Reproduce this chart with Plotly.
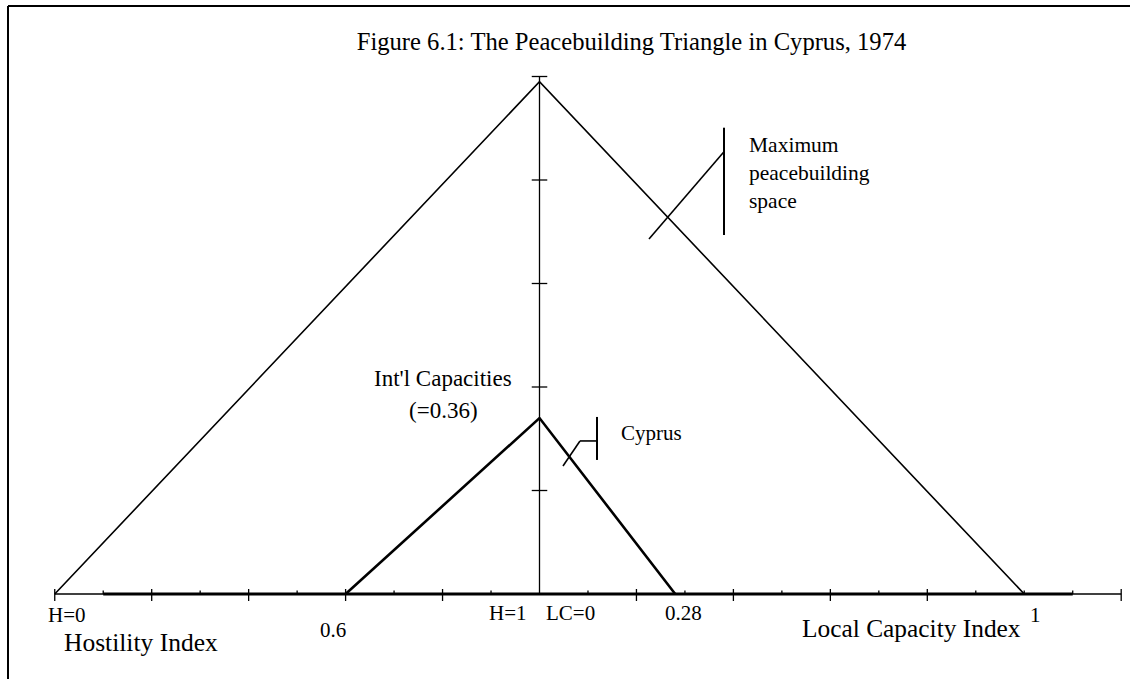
import plotly.graph_objects as go

# ---------------- data ----------------
hostility_ticks = [0.0, 0.1, 0.2, 0.3, 0.4, 0.5, 0.6, 0.7, 0.8, 0.9, 1.0]
hostility_major = [0.0, 0.2, 0.4, 0.6, 0.8]
capacity_ticks = [0.1, 0.2, 0.3, 0.4, 0.5, 0.6, 0.7, 0.8, 0.9, 1.0, 1.1, 1.2]
capacity_major = [0.2, 0.4, 0.6, 0.8, 1.2]
height_ticks = [0.2, 0.4, 0.6, 0.8, 1.0]

# maximum peacebuilding space (outer triangle)
max_hostility = 0.0
max_capacity = 1.0
max_intl = 0.99

# Cyprus 1974 (inner triangle)
cy_hostility = 0.6
cy_capacity = 0.28
cy_intl = 0.34
cy_intl_label = "0.36"

# ---------------- helpers ----------------
def hx(h):          # hostility index -> horizontal position (left half)
    return h - 1.0

def cx(c):          # local capacity index -> horizontal position (right half)
    return c

FONT = "Liberation Serif"
BLACK = "#000000"

fig = go.Figure()

def seg_trace(xs, ys, width):
    fig.add_trace(go.Scatter(x=xs, y=ys, mode="lines",
                             line=dict(color=BLACK, width=width),
                             hoverinfo="skip", showlegend=False))

# horizontal axis: thin full line + thick inner segment
seg_trace([hx(hostility_ticks[0]), cx(capacity_ticks[-1])], [0, 0], 1.3)
seg_trace([hx(hostility_ticks[1]), cx(capacity_ticks[-2])], [0, 0], 3)

# vertical axis
seg_trace([0, 0], [0, height_ticks[-1]], 1.3)

# ticks on horizontal axis
UP_MAJ, DN_MAJ, UP_MIN = 0.0097, 0.0135, 0.0070
tx, ty = [], []
for h in hostility_ticks[:-1]:
    major = any(abs(h - m) < 1e-9 for m in hostility_major)
    tx += [hx(h), hx(h), None]
    ty += [UP_MAJ if major else UP_MIN, -DN_MAJ if major else 0, None]
for c in capacity_ticks:
    major = any(abs(c - m) < 1e-9 for m in capacity_major)
    tx += [cx(c), cx(c), None]
    ty += [UP_MAJ if major else UP_MIN, -DN_MAJ if major else 0, None]
seg_trace(tx, ty, 1.3)

# ticks on vertical axis
HALF = 0.0160
vx, vy = [], []
for v in height_ticks:
    vx += [-HALF, HALF, None]
    vy += [v, v, None]
seg_trace(vx, vy, 1.3)

# outer triangle
seg_trace([hx(max_hostility), 0, cx(max_capacity)], [0, max_intl, 0], 1.6)
# inner triangle (Cyprus)
seg_trace([hx(cy_hostility), 0, cx(cy_capacity)], [0, cy_intl, 0], 2.6)

# ---------------- callouts (anchored on the triangles, pixel offsets) ----------------
shapes = []

def pline(ax_, ay_, x0, y0, x1, y1, w):
    shapes.append(dict(type="line", xref="x", yref="y",
                       xsizemode="pixel", ysizemode="pixel",
                       xanchor=ax_, yanchor=ay_,
                       x0=x0, y0=y0, x1=x1, y1=y1,
                       line=dict(color=BLACK, width=w)))

# point on outer triangle right edge
m_c = 0.27
m_ax, m_ay = cx(m_c), max_intl * (1 - m_c / max_capacity)
pline(m_ax, m_ay, -21.4, -19, 53.6, 68.3, 1.6)
pline(m_ax, m_ay, 53.6, 92.3, 53.6, -15, 2)

# point on inner triangle right edge
c_c = 0.06
c_ax, c_ay = cx(c_c), cy_intl * (1 - c_c / cy_capacity)
pline(c_ax, c_ay, -5.6, -10.2, 11.4, 14.8, 1.6)
pline(c_ax, c_ay, 11.4, 14.8, 28.4, 14.8, 1.6)
pline(c_ax, c_ay, 28.4, 38.8, 28.4, -4.2, 2)

# frame (top and left rule)
shapes.append(dict(type="line", xref="paper", yref="paper",
                   x0=8 / 1130, x1=1, y0=1 - 6 / 679, y1=1 - 6 / 679,
                   line=dict(color=BLACK, width=2)))
shapes.append(dict(type="line", xref="paper", yref="paper",
                   x0=8 / 1130, x1=8 / 1130, y0=0, y1=1 - 6 / 679,
                   line=dict(color=BLACK, width=2)))

# ---------------- text ----------------
ann = []

def label(x, y, text, xs, ys, size=21, xanchor="center", align="center"):
    ann.append(dict(x=x, y=y, xref="x", yref="y", text=text, showarrow=False,
                    xshift=xs, yshift=ys, xanchor=xanchor, yanchor="middle",
                    align=align,
                    font=dict(family=FONT, size=size, color=BLACK)))

label(m_ax, m_ay, "Maximum<br>peacebuilding<br>space", 76.6, 47, 21.5, "left", "left")
label(c_ax, c_ay, "Cyprus", 50.4, 22.8, 21, "left", "left")
label(0, cy_intl, "Int'l Capacities", -96.5, 40, 23)
label(0, cy_intl, "(=" + cy_intl_label + ")", -96.5, 8, 23)

label(hx(max_hostility), 0, "H=0", 12, -21, 21)
label(hx(cy_hostility), 0, f"{cy_hostility:g}", -12.6, -36, 21)
label(hx(1.0), 0, "H=1", -31.5, -19, 21)
label(cx(0.0), 0, "LC=0", 30.5, -19, 21)
label(cx(cy_capacity), 0, f"{cy_capacity:g}", 8, -19, 21)
label(cx(max_capacity), 0, f"{max_capacity:g}", 11, -21, 21)
label(hx(max_hostility), 0, "Hostility Index", 7, -48, 25.5, "left", "left")
label(cx(max_capacity), 0, "Local Capacity Index", -1, -34, 25.4, "right", "left")

# ---------------- layout ----------------
PX = 484.75
PY = 517.5
fig.update_layout(
    width=1130, height=679,
    margin=dict(l=0, r=0, t=0, b=0),
    paper_bgcolor="white", plot_bgcolor="white",
    showlegend=False,
    title=dict(text="Figure 6.1: The Peacebuilding Triangle in Cyprus, 1974",
               x=631.5 / 1130, y=1 - 41 / 679, xanchor="center", yanchor="middle",
               font=dict(family=FONT, size=24.6, color=BLACK)),
    xaxis=dict(range=[-539.5 / PX, (1130 - 539.5) / PX], visible=False, fixedrange=True),
    yaxis=dict(range=[-85 / PY, 594 / PY], visible=False, fixedrange=True),
    shapes=shapes,
    annotations=ann,
)

fig.write_html("out.html",
               config={"displayModeBar": False},
               post_script="document.body.style.margin='0';document.body.style.overflow='hidden';")
